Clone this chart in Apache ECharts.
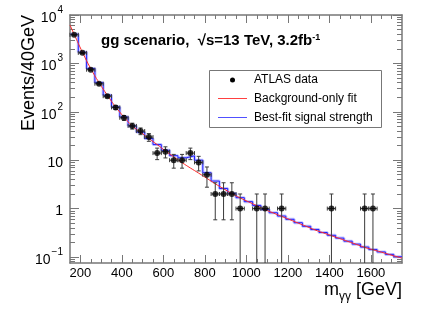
<!DOCTYPE html>
<html><head><meta charset="utf-8">
<script src="https://cdn.jsdelivr.net/npm/echarts@6/dist/echarts.min.js"></script>
<style>html,body{margin:0;padding:0;background:#fff}#c{width:424px;height:319px}</style>
</head><body><div id="c"></div>
<script>
// ---- data ----
const binCenters = [170,210,250,290,330,370,410,450,490,530,570,610,650,690,730,770,810,850,890,930,970,1050,1090,1170,1410,1570,1610];
const counts     = [3900,1650,740,380,210,123,75,51,40,30,14,15,10,10,14,9,5,2,2,2,1,1,1,1,1,1,1];
const binHalfWidth = 20;

const fitMass = [150,170,210,250,290,330,370,410,450,490,530,570,610,650,690,730,770,810,850,890,930,970,1010,1050,1090,1130,1170,1210,1250,1290,1330,1370,1410,1450,1490,1530,1570,1610,1650,1690,1730,1750];
const bkgFit  = [6200,4000,1700,780,400,220,126,78,51,38,28,21,15.5,11.7,8.9,6.9,5.4,4.2,3.25,2.57,2.04,1.66,1.38,1.15,0.955,0.81,0.69,0.59,0.50,0.427,0.363,0.316,0.275,0.24,0.209,0.182,0.158,0.141,0.126,0.112,0.100,0.095];

const sbBinLow = [150,190,230,270,310,350,390,430,470,510,550,590,630,670,710,750,790,830,870,910,950,990,1030,1070,1110,1150,1190,1230,1270,1310,1350,1390,1430,1470,1510,1550,1590,1630,1670,1710];
const sbBinHigh = 1750;
const sbValues = [4000,1700,780,400,220,126,78,51,38,28,21,16,12.4,11.2,12.3,10,5.5,3.7,2.6,2.06,1.68,1.39,1.16,0.96,0.82,0.70,0.60,0.51,0.43,0.37,0.32,0.28,0.245,0.212,0.184,0.16,0.142,0.127,0.113,0.101];

const xMajorTicks = [200,400,600,800,1000,1200,1400,1600];
const xMinorTicks = [250,300,350,450,500,550,650,700,750,850,900,950,1050,1100,1150,1250,1300,1350,1450,1500,1550,1650,1700];
const yMajorTicks = [0.1,1,10,100,1000,10000];
const yMinorTicks = [0.08,0.09,0.2,0.3,0.4,0.5,0.6,0.7,0.8,0.9,2,3,4,5,6,7,8,9,20,30,40,50,60,70,80,90,200,300,400,500,600,700,800,900,2000,3000,4000,5000,6000,7000,8000,9000];
const xMin = 150, xMax = 1750, yMin = 0.075, yMax = 10000;

// ---- chart ----
const FONT = "'Liberation Sans', Arial, Helvetica, sans-serif";
const AX = '#777';
const chart = echarts.init(document.getElementById('c'), null, {renderer:'canvas'});

function xAx(pos, ticks, len, showLine, showLabel){
  return {type:'value', min:xMin, max:xMax, position:pos,
    axisLine:{show:showLine, onZero:false, lineStyle:{color:AX, width:1.5}},
    axisTick:{show:true, inside:true, length:len, customValues:ticks, lineStyle:{color:AX, width:1}},
    axisLabel:{show:showLabel, customValues:ticks, formatter:function(v){return String(v);},
      fontSize:13, color:'#000', fontFamily:FONT, margin:4},
    splitLine:{show:false}};
}
function supFmt(v){
  const e = Math.round(Math.log10(v));
  if (e === 0) return '{b|1}';
  if (e === 1) return '{b|10}';
  return '{b|10}{s|' + (e < 0 ? '\u2212' + (-e) : e) + '}';
}
function yAx(pos, ticks, len, showLine, showLabel){
  return {type:'log', logBase:10, min:yMin, max:yMax, position:pos,
    axisLine:{show:showLine, onZero:false, lineStyle:{color:AX, width:1.5}},
    axisTick:{show:true, inside:true, length:len, customValues:ticks, lineStyle:{color:AX, width:1}},
    axisLabel:{show:showLabel, customValues:ticks, formatter:supFmt, margin:7,
      rich:{b:{fontSize:14, fontFamily:FONT, color:'#000', lineHeight:20, verticalAlign:'bottom'},
            s:{fontSize:10, fontFamily:FONT, color:'#000', lineHeight:20, verticalAlign:'top', padding:[0,0,0,1]}}},
    splitLine:{show:false}};
}

const pts = binCenters.map((x,i)=>[x, counts[i]]);
const bkgData = fitMass.map((m,i)=>[m, bkgFit[i]]);
const sbData = sbBinLow.map((m,i)=>[m, sbValues[i]]).concat([[sbBinHigh, sbValues[sbValues.length-1]]]);

const option = {
  animation:false,
  backgroundColor:'#fff',
  grid:{left:70, right:22, top:15, bottom:56, containLabel:false},
  xAxis:[xAx('bottom', xMajorTicks, 8, true, true), xAx('bottom', xMinorTicks, 4, false, false),
         xAx('top', xMajorTicks, 8, true, false), xAx('top', xMinorTicks, 4, false, false)],
  yAxis:[yAx('left', yMajorTicks, 9, true, true), yAx('left', yMinorTicks, 5, false, false),
         yAx('right', yMajorTicks, 9, true, false), yAx('right', yMinorTicks, 5, false, false)],
  series:[
    {type:'line', data:sbData, step:'end', showSymbol:false, silent:true, z:2,
     lineStyle:{color:'#a8a8ff', width:3, opacity:0.7}},
    {type:'line', data:sbData, step:'end', showSymbol:false, silent:true, z:3,
     lineStyle:{color:'#2020ff', width:1}},
    {type:'line', data:bkgData, smooth:true, showSymbol:false, silent:true, z:4,
     lineStyle:{color:'#ff2828', width:1}},
    {type:'custom', data:pts, z:5, silent:true,
     renderItem:function(params, api){
       const x = api.value(0), y = api.value(1), e = Math.sqrt(y);
       const c = api.coord([x, y]);
       const l = api.coord([x - binHalfWidth, y])[0];
       const r = api.coord([x + binHalfWidth, y])[0];
       const top = api.coord([x, y + e])[1];
       const cs = params.coordSys;
       const bottom = cs.y + cs.height;
       const lowVal = y - e;
       const lowOk = lowVal > yMin;
       const low = lowOk ? api.coord([x, lowVal])[1] : bottom;
       const st = {stroke:'#3a3a3a', lineWidth:1};
       const ch = [
         {type:'line', shape:{x1:l, y1:c[1], x2:r, y2:c[1]}, style:st},
         {type:'line', shape:{x1:l, y1:c[1]-2, x2:l, y2:c[1]+2}, style:st},
         {type:'line', shape:{x1:r, y1:c[1]-2, x2:r, y2:c[1]+2}, style:st},
         {type:'line', shape:{x1:c[0], y1:top, x2:c[0], y2:low}, style:st},
         {type:'line', shape:{x1:c[0]-2, y1:top, x2:c[0]+2, y2:top}, style:st}
       ];
       if (lowOk) ch.push({type:'line', shape:{x1:c[0]-2, y1:low, x2:c[0]+2, y2:low}, style:st});
       return {type:'group', children:ch};
     }},
    {type:'scatter', data:pts, symbol:'circle', symbolSize:6, z:6, silent:true,
     itemStyle:{color:'#000'}}
  ],
  graphic:[
    {type:'text', left:101, top:33, z:100, style:{
      text:'gg scenario,  \u221As=13 TeV, 3.2fb{s|-1}',
      rich:{s:{fontSize:9, fontWeight:'bold', fontFamily:FONT, verticalAlign:'top', lineHeight:16}},
      font:"bold 15px " + FONT, fill:'#000'}},
    {type:'rect', z:100, shape:{x:209.5, y:70.5, width:172, height:57}, style:{fill:'#fff', stroke:'#777', lineWidth:1}},
    {type:'circle', z:101, shape:{cx:232.5, cy:80, r:2.5}, style:{fill:'#000'}},
    {type:'line', z:101, shape:{x1:218, y1:98.5, x2:247, y2:98.5}, style:{stroke:'#ff4040', lineWidth:1}},
    {type:'line', z:101, shape:{x1:218, y1:117.5, x2:247, y2:117.5}, style:{stroke:'#5050ff', lineWidth:1}},
    {type:'text', z:101, x:254, y:80, style:{text:'ATLAS data', font:"12px " + FONT, fill:'#000', textVerticalAlign:'middle'}},
    {type:'text', z:101, x:254, y:98.5, style:{text:'Background-only fit', font:"12px " + FONT, fill:'#000', textVerticalAlign:'middle'}},
    {type:'text', z:101, x:254, y:117.5, style:{text:'Best-fit signal strength', font:"12px " + FONT, fill:'#000', textVerticalAlign:'middle'}},
    {type:'text', z:101, x:38, y:15, rotation:Math.PI/2, style:{text:'Events/40GeV', font:"18px " + FONT, fill:'#000', textAlign:'right', textVerticalAlign:'bottom'}},
    {type:'text', z:101, right:22, top:281, style:{text:'m{s|\u03B3\u03B3} [GeV]', font:"18px " + FONT, fill:'#000',
      rich:{s:{fontSize:12, fontFamily:FONT, verticalAlign:'bottom', lineHeight:26}}}}
  ]
};
chart.setOption(option);
</script></body></html>
